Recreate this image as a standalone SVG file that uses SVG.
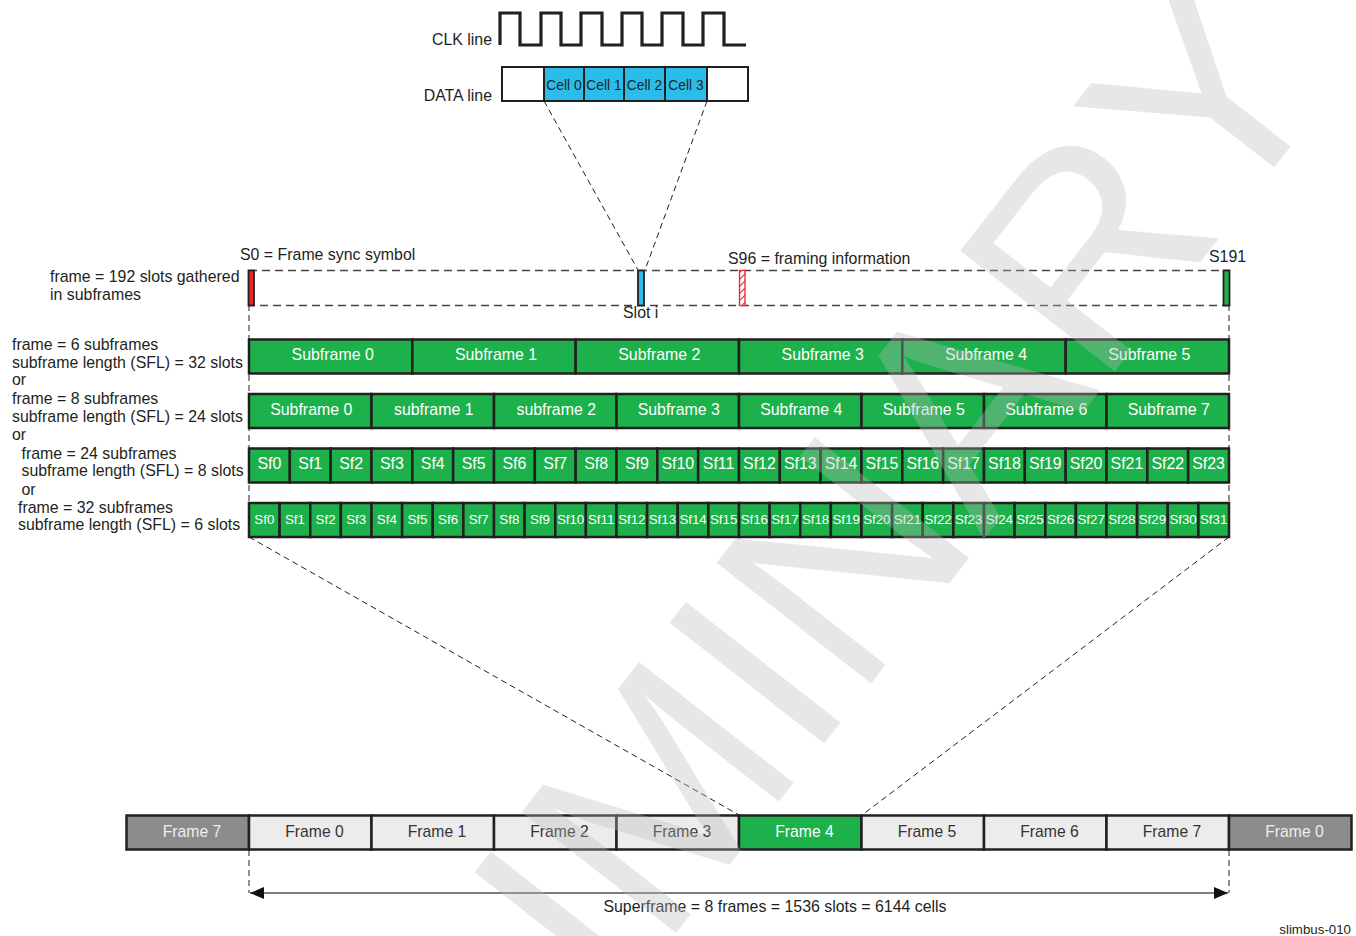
<svg xmlns="http://www.w3.org/2000/svg" width="1356" height="936" viewBox="0 0 1356 936">
<style>
text{font-family:"Liberation Sans",Arial,sans-serif;fill:#231f20}
.lbl{font-size:15.9px}
.mid{text-anchor:middle}
.g rect{fill:#1db14b;stroke:#231f20;stroke-width:2.5}
.g text{fill:#fff;font-size:15.9px;text-anchor:middle}
.g4 text{font-size:13.3px}
.ct{font-size:13.8px;text-anchor:middle}
.cell{fill:#2bbde9;stroke:#231f20;stroke-width:2}
.wbox{fill:#fff;stroke:#231f20;stroke-width:2}
.fr rect{stroke:#231f20;stroke-width:2.5}
.fl{fill:#ececec}
.fg{fill:#8c8c8c}
.fgr{fill:#1db14b}
.fr text{font-size:15.7px;text-anchor:middle}
.dash{fill:none;stroke:#231f20;stroke-width:1;stroke-dasharray:6 4}
.dashf{fill:none;stroke:#444;stroke-width:1.5;stroke-dasharray:8 5}
</style>
<defs>
<marker id="ah" viewBox="0 0 14 12" refX="14" refY="6" markerWidth="14" markerHeight="12" markerUnits="userSpaceOnUse" orient="auto-start-reverse">
<path d="M0,0 L14,6 L0,12 z" fill="#111"/>
</marker>
<pattern id="hatch" patternUnits="userSpaceOnUse" width="5" height="5" patternTransform="rotate(45)">
<rect width="5" height="5" fill="#fff"/>
<line x1="0" y1="0" x2="0" y2="5" stroke="#e8262b" stroke-width="2"/>
</pattern>
</defs>

<g id="connectors">
<line class="dash" x1="544" y1="101" x2="638" y2="270"/>
<line class="dash" x1="707" y1="101" x2="645" y2="270"/>
<line class="dash" x1="249" y1="305" x2="249" y2="537"/>
<line class="dash" x1="1229" y1="305" x2="1229" y2="537"/>
<line class="dash" x1="249" y1="537" x2="739" y2="815"/>
<line class="dash" x1="1229" y1="537" x2="862" y2="815"/>
<line class="dash" x1="249" y1="850" x2="249" y2="893"/>
<line class="dash" x1="1229" y1="850" x2="1229" y2="893"/>
<line x1="250" y1="893" x2="1228" y2="893" stroke="#555" stroke-width="1.6" marker-start="url(#ah)" marker-end="url(#ah)"/>
</g>

<g id="clk">
<path d="M500,45 V13 H520 V45 H541 V13 H561 V45 H581 V13 H602 V45 H622 V13 H642 V45 H662 V13 H683 V45 H703 V13 H724 V45 H746" fill="none" stroke="#231f20" stroke-width="3.2"/>
<text class="lbl" x="492" y="45" text-anchor="end">CLK line</text>
</g>

<g id="data">
<rect class="wbox" x="502" y="67" width="246" height="34"/>
<rect class="cell" x="544" y="67" width="40" height="34"/>
<rect class="cell" x="584" y="67" width="40" height="34"/>
<rect class="cell" x="624" y="67" width="41" height="34"/>
<rect class="cell" x="665" y="67" width="42" height="34"/>
<text x="564" y="90" class="ct">Cell 0</text>
<text x="604" y="90" class="ct">Cell 1</text>
<text x="644.5" y="90" class="ct">Cell 2</text>
<text x="686" y="90" class="ct">Cell 3</text>
<text class="lbl" x="492" y="101" text-anchor="end">DATA line</text>
</g>

<g id="frame">
<rect class="dashf" x="249" y="270.5" width="980" height="35"/>
<rect x="248.5" y="270.5" width="5.5" height="35" fill="#e8262b" stroke="#231f20" stroke-width="1.8"/>
<rect x="638" y="270.5" width="6" height="35" fill="#2bbde9" stroke="#231f20" stroke-width="1.8"/>
<rect x="739.5" y="270.5" width="5.5" height="35" fill="url(#hatch)" stroke="#e8262b" stroke-width="1.3"/>
<rect x="1223.5" y="270.5" width="6" height="35" fill="#1db14b" stroke="#231f20" stroke-width="1.8"/>
<text class="lbl" x="240" y="260">S0 = Frame sync symbol</text>
<text class="lbl" x="728" y="264">S96 = framing information</text>
<text class="lbl" x="1209" y="262">S191</text>
<text class="lbl" x="623" y="318">Slot i</text>
<text class="lbl" x="50" y="282">frame = 192 slots gathered</text>
<text class="lbl" x="50" y="300">in subframes</text>
</g>

<g id="labels">
<text class="lbl" x="12" y="349.5">frame = 6 subframes</text>
<text class="lbl" x="12" y="367.5">subframe length (SFL) = 32 slots</text>
<text class="lbl" x="12" y="385">or</text>
<text class="lbl" x="12" y="404">frame = 8 subframes</text>
<text class="lbl" x="12" y="421.5">subframe length (SFL) = 24 slots</text>
<text class="lbl" x="12" y="439.5">or</text>
<text class="lbl" x="21.5" y="458.5">frame = 24 subframes</text>
<text class="lbl" x="21.5" y="476">subframe length (SFL) = 8 slots</text>
<text class="lbl" x="21.5" y="494.5">or</text>
<text class="lbl" x="18" y="513">frame = 32 subframes</text>
<text class="lbl" x="18" y="530">subframe length (SFL) = 6 slots</text>
</g>

<g id="row6" class="g">
<rect x="249" y="339.5" width="163.33" height="34"/>
<rect x="412.33" y="339.5" width="163.33" height="34"/>
<rect x="575.67" y="339.5" width="163.33" height="34"/>
<rect x="739" y="339.5" width="163.33" height="34"/>
<rect x="902.33" y="339.5" width="163.33" height="34"/>
<rect x="1065.67" y="339.5" width="163.33" height="34"/>
<text x="332.67" y="359.5">Subframe 0</text>
<text x="496" y="359.5">Subframe 1</text>
<text x="659.33" y="359.5">Subframe 2</text>
<text x="822.67" y="359.5">Subframe 3</text>
<text x="986" y="359.5">Subframe 4</text>
<text x="1149.33" y="359.5">Subframe 5</text>
</g>

<g id="row8" class="g">
<rect x="249" y="394" width="122.5" height="34"/>
<rect x="371.5" y="394" width="122.5" height="34"/>
<rect x="494" y="394" width="122.5" height="34"/>
<rect x="616.5" y="394" width="122.5" height="34"/>
<rect x="739" y="394" width="122.5" height="34"/>
<rect x="861.5" y="394" width="122.5" height="34"/>
<rect x="984" y="394" width="122.5" height="34"/>
<rect x="1106.5" y="394" width="122.5" height="34"/>
<text x="311.25" y="414.5">Subframe 0</text>
<text x="433.75" y="414.5">subframe 1</text>
<text x="556.25" y="414.5">subframe 2</text>
<text x="678.75" y="414.5">Subframe 3</text>
<text x="801.25" y="414.5">Subframe 4</text>
<text x="923.75" y="414.5">Subframe 5</text>
<text x="1046.25" y="414.5">Subframe 6</text>
<text x="1168.75" y="414.5">Subframe 7</text>
</g>

<g id="row24" class="g">
<rect x="249" y="448.5" width="40.83" height="34"/>
<rect x="289.83" y="448.5" width="40.83" height="34"/>
<rect x="330.67" y="448.5" width="40.83" height="34"/>
<rect x="371.5" y="448.5" width="40.83" height="34"/>
<rect x="412.33" y="448.5" width="40.83" height="34"/>
<rect x="453.17" y="448.5" width="40.83" height="34"/>
<rect x="494" y="448.5" width="40.83" height="34"/>
<rect x="534.83" y="448.5" width="40.83" height="34"/>
<rect x="575.67" y="448.5" width="40.83" height="34"/>
<rect x="616.5" y="448.5" width="40.83" height="34"/>
<rect x="657.33" y="448.5" width="40.83" height="34"/>
<rect x="698.17" y="448.5" width="40.83" height="34"/>
<rect x="739" y="448.5" width="40.83" height="34"/>
<rect x="779.83" y="448.5" width="40.83" height="34"/>
<rect x="820.67" y="448.5" width="40.83" height="34"/>
<rect x="861.5" y="448.5" width="40.83" height="34"/>
<rect x="902.33" y="448.5" width="40.83" height="34"/>
<rect x="943.17" y="448.5" width="40.83" height="34"/>
<rect x="984" y="448.5" width="40.83" height="34"/>
<rect x="1024.83" y="448.5" width="40.83" height="34"/>
<rect x="1065.67" y="448.5" width="40.83" height="34"/>
<rect x="1106.5" y="448.5" width="40.83" height="34"/>
<rect x="1147.33" y="448.5" width="40.83" height="34"/>
<rect x="1188.17" y="448.5" width="40.83" height="34"/>
<text x="269.42" y="468.5">Sf0</text>
<text x="310.25" y="468.5">Sf1</text>
<text x="351.08" y="468.5">Sf2</text>
<text x="391.92" y="468.5">Sf3</text>
<text x="432.75" y="468.5">Sf4</text>
<text x="473.58" y="468.5">Sf5</text>
<text x="514.42" y="468.5">Sf6</text>
<text x="555.25" y="468.5">Sf7</text>
<text x="596.08" y="468.5">Sf8</text>
<text x="636.92" y="468.5">Sf9</text>
<text x="677.75" y="468.5">Sf10</text>
<text x="718.58" y="468.5">Sf11</text>
<text x="759.42" y="468.5">Sf12</text>
<text x="800.25" y="468.5">Sf13</text>
<text x="841.08" y="468.5">Sf14</text>
<text x="881.92" y="468.5">Sf15</text>
<text x="922.75" y="468.5">Sf16</text>
<text x="963.58" y="468.5">Sf17</text>
<text x="1004.42" y="468.5">Sf18</text>
<text x="1045.25" y="468.5">Sf19</text>
<text x="1086.08" y="468.5">Sf20</text>
<text x="1126.92" y="468.5">Sf21</text>
<text x="1167.75" y="468.5">Sf22</text>
<text x="1208.58" y="468.5">Sf23</text>
</g>

<g id="row32" class="g g4">
<rect x="249" y="503" width="30.63" height="34"/>
<rect x="279.63" y="503" width="30.63" height="34"/>
<rect x="310.25" y="503" width="30.63" height="34"/>
<rect x="340.88" y="503" width="30.63" height="34"/>
<rect x="371.5" y="503" width="30.63" height="34"/>
<rect x="402.13" y="503" width="30.63" height="34"/>
<rect x="432.75" y="503" width="30.63" height="34"/>
<rect x="463.38" y="503" width="30.63" height="34"/>
<rect x="494" y="503" width="30.63" height="34"/>
<rect x="524.63" y="503" width="30.63" height="34"/>
<rect x="555.25" y="503" width="30.63" height="34"/>
<rect x="585.88" y="503" width="30.63" height="34"/>
<rect x="616.5" y="503" width="30.63" height="34"/>
<rect x="647.13" y="503" width="30.63" height="34"/>
<rect x="677.75" y="503" width="30.63" height="34"/>
<rect x="708.38" y="503" width="30.63" height="34"/>
<rect x="739" y="503" width="30.63" height="34"/>
<rect x="769.63" y="503" width="30.63" height="34"/>
<rect x="800.25" y="503" width="30.63" height="34"/>
<rect x="830.88" y="503" width="30.63" height="34"/>
<rect x="861.5" y="503" width="30.63" height="34"/>
<rect x="892.13" y="503" width="30.63" height="34"/>
<rect x="922.75" y="503" width="30.63" height="34"/>
<rect x="953.38" y="503" width="30.63" height="34"/>
<rect x="984" y="503" width="30.63" height="34"/>
<rect x="1014.63" y="503" width="30.63" height="34"/>
<rect x="1045.25" y="503" width="30.63" height="34"/>
<rect x="1075.88" y="503" width="30.63" height="34"/>
<rect x="1106.5" y="503" width="30.63" height="34"/>
<rect x="1137.13" y="503" width="30.63" height="34"/>
<rect x="1167.75" y="503" width="30.63" height="34"/>
<rect x="1198.38" y="503" width="30.63" height="34"/>
<text x="264.31" y="523.5">Sf0</text>
<text x="294.94" y="523.5">Sf1</text>
<text x="325.56" y="523.5">Sf2</text>
<text x="356.19" y="523.5">Sf3</text>
<text x="386.81" y="523.5">Sf4</text>
<text x="417.44" y="523.5">Sf5</text>
<text x="448.06" y="523.5">Sf6</text>
<text x="478.69" y="523.5">Sf7</text>
<text x="509.31" y="523.5">Sf8</text>
<text x="539.94" y="523.5">Sf9</text>
<text x="570.56" y="523.5">Sf10</text>
<text x="601.19" y="523.5">Sf11</text>
<text x="631.81" y="523.5">Sf12</text>
<text x="662.44" y="523.5">Sf13</text>
<text x="693.06" y="523.5">Sf14</text>
<text x="723.69" y="523.5">Sf15</text>
<text x="754.31" y="523.5">Sf16</text>
<text x="784.94" y="523.5">Sf17</text>
<text x="815.56" y="523.5">Sf18</text>
<text x="846.19" y="523.5">Sf19</text>
<text x="876.81" y="523.5">Sf20</text>
<text x="907.44" y="523.5">Sf21</text>
<text x="938.06" y="523.5">Sf22</text>
<text x="968.69" y="523.5">Sf23</text>
<text x="999.31" y="523.5">Sf24</text>
<text x="1029.94" y="523.5">Sf25</text>
<text x="1060.56" y="523.5">Sf26</text>
<text x="1091.19" y="523.5">Sf27</text>
<text x="1121.81" y="523.5">Sf28</text>
<text x="1152.44" y="523.5">Sf29</text>
<text x="1183.06" y="523.5">Sf30</text>
<text x="1213.69" y="523.5">Sf31</text>
</g>

<g id="superframe" class="fr">
<rect class="fg" x="126.5" y="815.5" width="122.5" height="34"/>
<rect class="fl" x="249" y="815.5" width="122.5" height="34"/>
<rect class="fl" x="371.5" y="815.5" width="122.5" height="34"/>
<rect class="fl" x="494" y="815.5" width="122.5" height="34"/>
<rect class="fl" x="616.5" y="815.5" width="122.5" height="34"/>
<rect class="fgr" x="739" y="815.5" width="122.5" height="34"/>
<rect class="fl" x="861.5" y="815.5" width="122.5" height="34"/>
<rect class="fl" x="984" y="815.5" width="122.5" height="34"/>
<rect class="fl" x="1106.5" y="815.5" width="122.5" height="34"/>
<rect class="fg" x="1229" y="815.5" width="122.5" height="34"/>
<text x="192" y="836.5" style="fill:#eee">Frame 7</text>
<text x="314.5" y="836.5" style="fill:#333">Frame 0</text>
<text x="437" y="836.5" style="fill:#333">Frame 1</text>
<text x="559.5" y="836.5" style="fill:#333">Frame 2</text>
<text x="682" y="836.5" style="fill:#333">Frame 3</text>
<text x="804.5" y="836.5" style="fill:#fff">Frame 4</text>
<text x="927" y="836.5" style="fill:#333">Frame 5</text>
<text x="1049.5" y="836.5" style="fill:#333">Frame 6</text>
<text x="1172" y="836.5" style="fill:#333">Frame 7</text>
<text x="1294.5" y="836.5" style="fill:#eee">Frame 0</text>
</g>

<g id="captions">
<text x="775" y="912" class="mid" style="font-size:15.9px">Superframe = 8 frames = 1536 slots = 6144 cells</text>
<text x="1351" y="934" text-anchor="end" style="font-size:13.3px">slimbus-010</text>
</g>

<g id="watermark">
<text x="1341" y="82" transform="rotate(-52 1341 82)" text-anchor="end" style="font-size:285px;fill:#b9b9b9;opacity:0.33">PRELIMINARY</text>
</g>
</svg>
